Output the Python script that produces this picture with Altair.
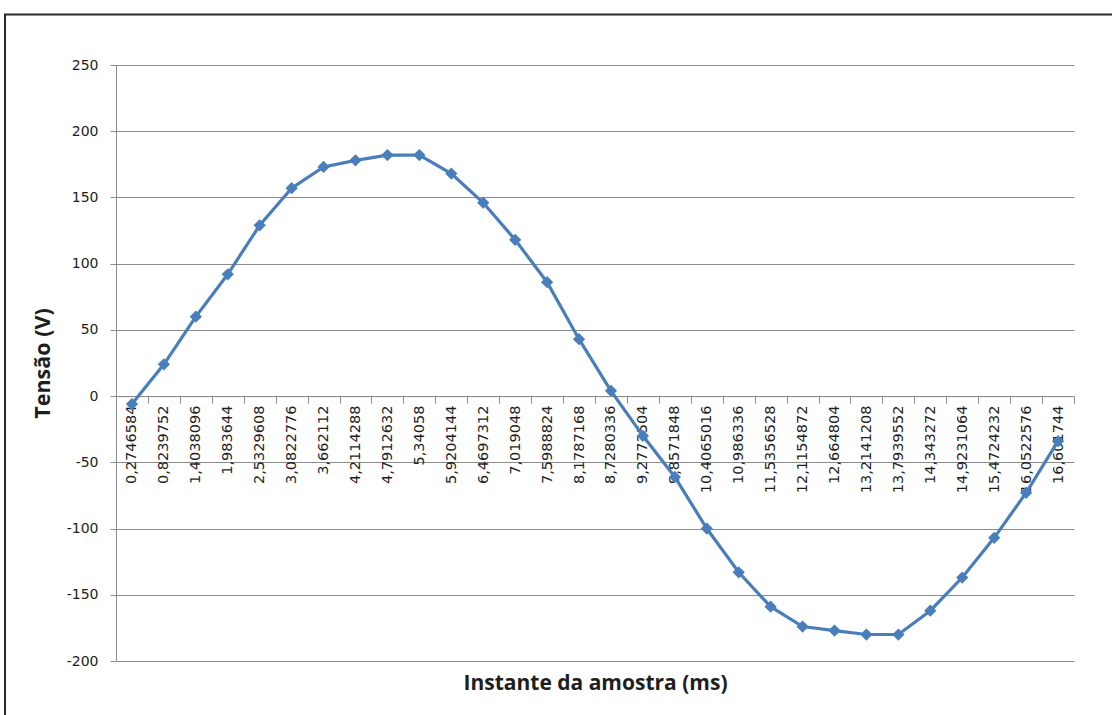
import altair as alt
import pandas as pd

# Sample instants (ms), kept as the category labels shown on the axis
instantes = [
    "0,2746584", "0,8239752", "1,4038096", "1,983644", "2,5329608",
    "3,0822776", "3,662112", "4,2114288", "4,7912632", "5,34058",
    "5,9204144", "6,4697312", "7,019048", "7,5988824", "8,1787168",
    "8,7280336", "9,2773504", "9,8571848", "10,4065016", "10,986336",
    "11,5356528", "12,1154872", "12,664804", "13,2141208", "13,7939552",
    "14,343272", "14,9231064", "15,4724232", "16,0522576", "16,601744",
]

# Measured voltage (V) at each instant
tensao = [
    -6, 24, 60, 92, 129, 157, 173, 178, 182, 182,
    168, 146, 118, 86, 43, 4, -30, -61, -100, -133,
    -159, -174, -177, -180, -180, -162, -137, -107, -73, -34,
]

df = pd.DataFrame({"instante": instantes, "tensao": tensao})

W, H = 958, 596
Y_MIN, Y_MAX = -200, 250
zero_from_bottom = H * (0 - Y_MIN) / (Y_MAX - Y_MIN)

GRID = "#8c8c8c"
LINE = "#4A7EBB"
TXT = "#1e1e1e"

x_enc = alt.X(
    "instante:N",
    sort=None,
    scale=alt.Scale(type="band", paddingInner=0, paddingOuter=0),
    axis=alt.Axis(
        title="Instante da amostra (ms)",
        titleFont="Open Sans",
        titleFontSize=21,
        titleFontWeight="bold",
        titleColor=TXT,
        titleX=W / 2,
        titleY=683 - 65 - (H - zero_from_bottom),
        titleBaseline="middle",
        titleAlign="center",
        offset=-zero_from_bottom,
        labelAngle=270,
        labelFont="DejaVu Sans",
        labelFontSize=14.5,
        labelColor=TXT,
        labelPadding=2,
        labelOverlap=False,
        tickBand="extent",
        tickSize=7,
        tickColor=GRID,
        domainColor=GRID,
        grid=False,
    ),
)

y_enc = alt.Y(
    "tensao:Q",
    scale=alt.Scale(domain=[Y_MIN, Y_MAX], nice=False, zero=False),
    axis=alt.Axis(
        title="Tensão (V)",
        titleFont="Open Sans",
        titleFontSize=21.5,
        titleFontWeight="bold",
        titleColor=TXT,
        titleX=43 - 116,
        titleY=H / 2,
        titleAngle=270,
        titleBaseline="middle",
        titleAlign="center",
        values=list(range(Y_MIN, Y_MAX + 1, 50)),
        labelExpr="replace(datum.label, '\u2212', '-')",
        labelFont="DejaVu Sans",
        labelFontSize=14,
        labelColor=TXT,
        labelPadding=12,
        tickSize=6,
        tickColor=GRID,
        domainColor=GRID,
        grid=True,
        gridColor=GRID,
        gridWidth=1,
        gridOpacity=1,
    ),
)

serie = alt.Chart(df).mark_line(
    color=LINE,
    strokeWidth=3.2,
    point=alt.OverlayMarkDef(shape="diamond", size=150, filled=True, color=LINE, opacity=1),
).encode(x=x_enc, y=y_enc)

# Border around the whole chart object
moldura = alt.Chart(pd.DataFrame({"k": [0]})).mark_rect(
    fill=None, stroke="#2a2a2a", strokeWidth=2
).encode(
    x=alt.value(5 - 116),
    y=alt.value(14.5 - 65),
    x2=alt.value(1112 - 116 + 20),
    y2=alt.value(715 - 65 + 20),
)

chart = alt.layer(moldura, serie).properties(
    width=W,
    height=H,
    autosize=alt.AutoSizeParams(type="none"),
    padding={"left": 116, "top": 65, "right": 1112 - 116 - W, "bottom": 715 - 65 - H},
    background="white",
).configure_view(stroke=None)

chart.save("out.html", embed_options={"renderer": "svg", "actions": False})
